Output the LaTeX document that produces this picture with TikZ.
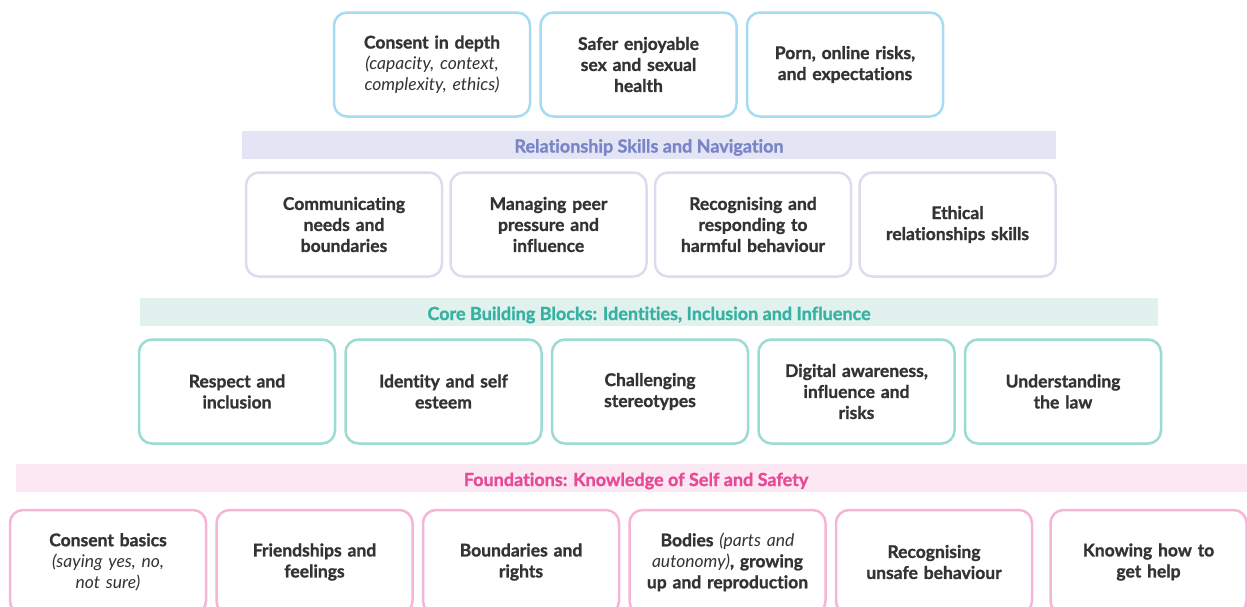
\documentclass[tikz,border=0pt]{standalone}
\usepackage{fontspec}
\setmainfont{Lato}[Ligatures=NoCommon, BoldFeatures={FakeBold=1.2}]
\usetikzlibrary{positioning}
\definecolor{ink}{HTML}{333333}
\definecolor{skyline}{HTML}{A6DCF2}
\definecolor{lavline}{HTML}{DCDCEE}
\definecolor{tealline}{HTML}{9ADBD2}
\definecolor{pinkline}{HTML}{F5B5D4}
\definecolor{lavfill}{HTML}{E3E4F4}
\definecolor{tealfill}{HTML}{E1F1EE}
\definecolor{pinkfill}{HTML}{FBE8F2}
\definecolor{lavtext}{HTML}{7A85C8}
\definecolor{tealtext}{HTML}{37B2A2}
\definecolor{pinktext}{HTML}{E84A98}
\newcommand{\soft}[1]{{\mdseries\itshape #1}}

\begin{document}
\begin{tikzpicture}[x=1pt,y=-1pt]
        \tikzset{card/.style= {draw, rectangle, rounded corners=13pt, line width=2.5pt, align=center, text width=186pt,
                minimum width=196pt, minimum height=104pt, text=ink, font=\bfseries\fontsize{17.5}{21}\selectfont},
        topcard/.style={card, draw=skyline},
        skillcard/.style={card, draw=lavline},
        corecard/.style={card, draw=tealline},
        basecard/.style={card, draw=pinkline},
        band/.style={rectangle, inner sep=0pt, minimum height=28pt, text height=17pt, text depth=1pt,
                font=\bfseries\fontsize{18}{20}\selectfont},
        node distance=8pt
        }
        \useasboundingbox (0,0) rectangle (1247,606);
        \clip (0,0) rectangle (1247,606);
%% top row
        \node [topcard] at (432,64.5) (consentdepth) {Consent in depth\\\soft{(capacity, context,}\\\soft{complexity, ethics)}};
        \node [topcard, right =of consentdepth] (safersex) {Safer enjoyable\\sex and sexual\\health};
        \node [topcard, right =of safersex] (pornrisks) {Porn, online risks,\\and expectations};
%% relationship skills
        \node [band, fill=lavfill, text=lavtext, minimum width=814pt] at (649,144.5) (skillband) {Relationship Skills and Navigation};
        \node [skillcard] at (344,224.5) (communicating) {Communicating\\needs and\\boundaries};
        \node [skillcard, right =6pt of communicating] (peerpressure) {Managing peer\\pressure and\\influence};
        \node [skillcard, right =6pt of peerpressure] (harmful) {Recognising and\\responding to\\harmful behaviour};
        \node [skillcard, right =6pt of harmful] (ethical) {Ethical\\relationships skills};
%% core building blocks
        \node [band, fill=tealfill, text=tealtext, minimum width=1018pt] at (649,312) (coreband) {Core Building Blocks: Identities, Inclusion and Influence};
        \node [corecard] at (237,391.5) (respect) {Respect and\\inclusion};
        \node [corecard, right =of respect] (identity) {Identity and self\\esteem};
        \node [corecard, right =of identity] (stereotypes) {Challenging\\stereotypes};
        \node [corecard, right =of stereotypes] (digital) {Digital awareness,\\influence and\\risks};
        \node [corecard, right =of digital] (law) {Understanding\\the law};
%% foundations
        \node [band, fill=pinkfill, text=pinktext, minimum width=1240pt] at (636,478) (baseband) {Foundations: Knowledge of Self and Safety};
        \node [basecard] at (108,562) (consentbasics) {Consent basics\\\soft{(saying yes, no,}\\\soft{not sure)}};
        \node [basecard, right =of consentbasics] (friendships) {Friendships and\\feelings};
        \node [basecard, right =of friendships] (boundaries) {Boundaries and\\rights};
        \node [basecard, right =of boundaries] (bodies) {Bodies \soft{(parts and}\\\soft{autonomy)}, growing\\up and reproduction};
        \node [basecard, right =of bodies] (unsafe) {Recognising\\unsafe behaviour};
        \node [basecard, right =16pt of unsafe] (gethelp) {Knowing how to\\get help};
    \end{tikzpicture}
\end{document}
